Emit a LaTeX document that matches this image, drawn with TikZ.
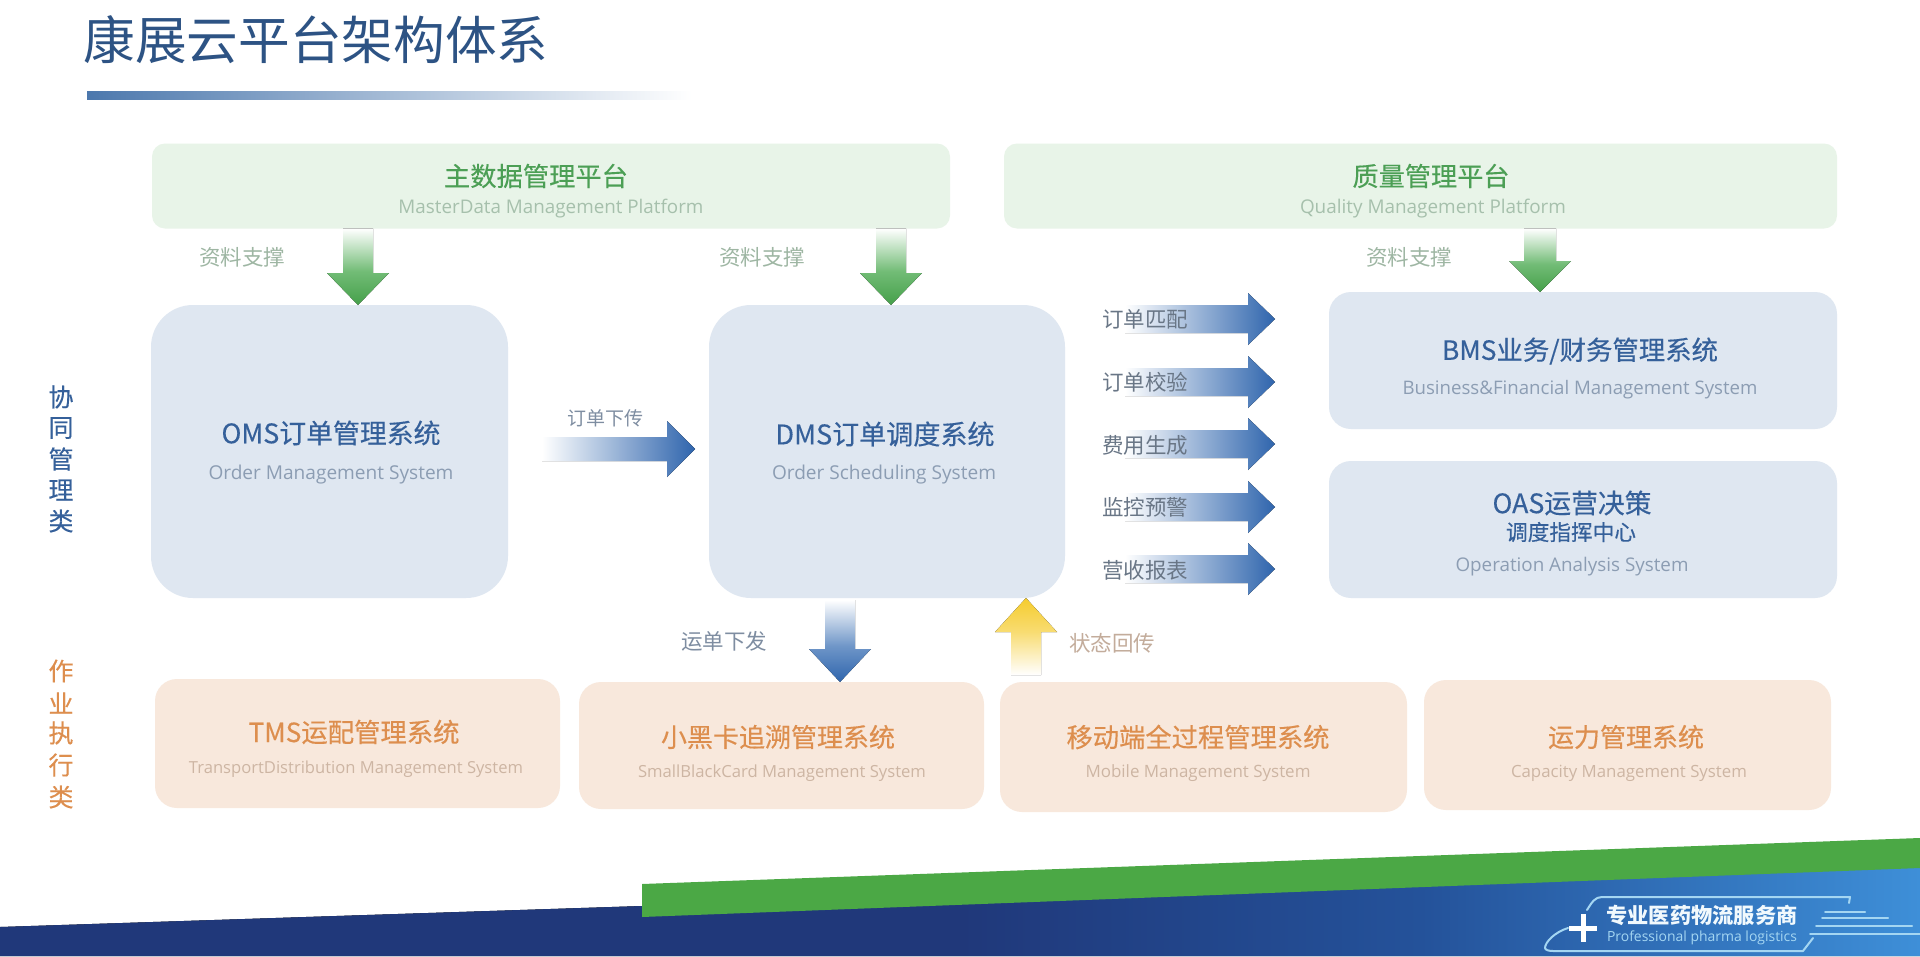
\documentclass[tikz,border=0pt]{standalone}
\usepackage{fontspec}
\setmainfont{Noto Sans CJK SC}
\newfontfamily\cjkmed[FakeBold=0.35]{Noto Sans CJK SC}
\newfontfamily\latinsub{Open Sans}
\usetikzlibrary{calc}
\definecolor{bluebox}{HTML}{DFE7F1}
\definecolor{greenbox}{HTML}{E8F4E8}
\definecolor{orangebox}{HTML}{F8E8DC}
\definecolor{bluetext}{HTML}{35609A}
\definecolor{greentext}{HTML}{4C9F55}
\definecolor{orangetext}{HTML}{DD8E4E}
\definecolor{bluesub}{HTML}{8C9DB3}
\definecolor{greensub}{HTML}{A6C0AC}
\definecolor{orangesub}{HTML}{CDB5A3}
\definecolor{gdark}{HTML}{45A04A}
\definecolor{gmid}{HTML}{72BC76}
\definecolor{bdark}{HTML}{2F65AD}
\definecolor{bmid}{HTML}{6F96C8}
\definecolor{ydark}{HTML}{F5CC2E}
\definecolor{ymid}{HTML}{F8DC72}
\definecolor{navy}{HTML}{20387A}
\definecolor{bandmid}{HTML}{24529A}
\definecolor{bandright}{HTML}{3E8FD8}
\definecolor{bandgreen}{HTML}{4BA845}
\definecolor{logoline}{HTML}{A4D6F2}
\definecolor{rulestart}{HTML}{4C78AD}
\definecolor{titlecol}{HTML}{2D5384}
\pgfdeclareverticalshading{greendown}{100bp}{color(0bp)=(gdark);color(25bp)=(gdark);color(47bp)=(gmid);color(75bp)=(white);color(100bp)=(white)}
\pgfdeclareverticalshading{bluedown}{100bp}{color(0bp)=(bdark);color(25bp)=(bdark);color(47bp)=(bmid);color(75bp)=(white);color(100bp)=(white)}
\pgfdeclareverticalshading{yellowup}{100bp}{color(0bp)=(white);color(25bp)=(white);color(53bp)=(ymid);color(75bp)=(ydark);color(100bp)=(ydark)}
\pgfdeclarehorizontalshading{bandshade}{100bp}{color(0bp)=(navy);color(25bp)=(navy);color(50bp)=(navy);color(62bp)=(bandmid);color(75bp)=(bandright);color(100bp)=(bandright)}
\tikzset{
  x=1pt,y=-1pt,
  box/.style={rectangle,inner sep=0pt,outer sep=0pt,draw=none},
  bluemain/.style={box,fill=bluebox,rounded corners=22pt},
  bluebig/.style={box,fill=bluebox,rounded corners=42pt},
  greenplat/.style={box,fill=greenbox,rounded corners=13pt},
  orangesys/.style={box,fill=orangebox,rounded corners=22pt},
  tx/.style={inner sep=0pt,outer sep=0pt,anchor=center},
  toblue/.style={tx,text=bluetext,font=\cjkmed},
  togreen/.style={tx,text=greentext,font=\cjkmed},
  toorange/.style={tx,text=orangetext,font=\cjkmed},
  subblue/.style={tx,text=bluesub,font=\latinsub},
  subgreen/.style={tx,text=greensub,font=\latinsub},
  suborange/.style={tx,text=orangesub,font=\latinsub},
  edgegreen/.style={tx,text=greensub!95!black,font=\fontsize{21.5}{21.5}\selectfont},
  edgeblue/.style={tx,text=bluesub!90!black,font=\fontsize{21.5}{21.5}\selectfont},
  edgeorange/.style={tx,text=orangesub!95!black,font=\fontsize{21.5}{21.5}\selectfont},
  sidelabel/.style={tx,font=\cjkmed\fontsize{25}{25}\selectfont},
  barrow/.style={left color=white,right color=bdark},
  garrow/.style={shading=greendown},
  dbarrow/.style={shading=bluedown},
  yarrow/.style={shading=yellowup},
  logostroke/.style={draw=logoline,line width=2pt,line cap=round,line join=round},
}
\newcommand{\fitw}[2]{\resizebox{#1pt}{!}{#2}}
% start, tip, shaft half width, head half width, head length, style
\newcommand{\blockarrow}[6]{%
  \coordinate (tmpbase) at ($(#2)!#5pt!(#1)$);
  \fill[#6] ($(#1)!#3pt!90:(#2)$) -- ($(tmpbase)!#3pt!90:(#2)$) -- ($(tmpbase)!#4pt!90:(#2)$) -- (#2)
    -- ($(tmpbase)!#4pt!-90:(#2)$) -- ($(tmpbase)!#3pt!-90:(#2)$) -- ($(#1)!#3pt!-90:(#2)$) -- cycle;
}
\begin{document}
\begin{tikzpicture}
\useasboundingbox (0,0) rectangle (1920,956);
\fill[white] (0,0) rectangle (1920,956);

% title
\node[tx,text=titlecol,anchor=center] (title) at (316,40) {\fitw{465}{\fontsize{52}{52}\selectfont 康展云平台架构体系}};
\fill[left color=rulestart,right color=white] (87,91) rectangle (692,99);

% bottom band
\fill[shading=bandshade] (0,927) -- (642,906) -- (1920,858) -- (1920,956) -- (0,956) -- cycle;
\fill[bandgreen] (642,884) -- (1920,838) -- (1920,868) -- (642,917) -- cycle;

% boxes
\node[greenplat,minimum width=798pt,minimum height=85pt] (mdm) at (551,186) {};
\node[greenplat,minimum width=833pt,minimum height=85pt] (qmp) at (1420.5,186) {};
\node[bluebig,minimum width=357pt,minimum height=293pt] (oms) at (329.5,451.5) {};
\node[bluebig,minimum width=356pt,minimum height=293pt] (dms) at (887,451.5) {};
\node[bluemain,minimum width=508pt,minimum height=137pt] (bms) at (1583,360.5) {};
\node[bluemain,minimum width=508pt,minimum height=137pt] (oas) at (1583,529.5) {};
\node[orangesys,minimum width=405pt,minimum height=129pt] (tms) at (357.5,743.5) {};
\node[orangesys,minimum width=405pt,minimum height=127pt] (sbc) at (781.5,745.5) {};
\node[orangesys,minimum width=407pt,minimum height=130pt] (mob) at (1203.5,747) {};
\node[orangesys,minimum width=407pt,minimum height=130pt] (cap) at (1627.5,745) {};

% coordinates locating the block arrows
\coordinate (xa) at (358,0);
\coordinate (xb) at (891,0);
\coordinate (xc) at (1540,0);
\coordinate (xd) at (840,0);
\coordinate (xe) at (1026,0);
\coordinate (yo) at (0,449);
\coordinate (y1) at (0,319);
\coordinate (y2) at (0,382);
\coordinate (y3) at (0,444);
\coordinate (y4) at (0,507);
\coordinate (y5) at (0,569);

% green arrows
\coordinate (a1s) at (xa |- mdm.south); \coordinate (a1e) at (xa |- oms.north);
\blockarrow{a1s}{a1e}{15}{31}{32}{garrow}
\coordinate (a2s) at (xb |- mdm.south); \coordinate (a2e) at (xb |- dms.north);
\blockarrow{a2s}{a2e}{15}{31}{32}{garrow}
\coordinate (a3s) at (xc |- qmp.south); \coordinate (a3e) at (xc |- bms.north);
\blockarrow{a3s}{a3e}{16}{31}{31}{garrow}

% blue horizontal arrows
\coordinate (a4s) at ($(oms.east |- yo)+(34,0)$); \coordinate (a4e) at ($(dms.west |- yo)+(-14,0)$);
\blockarrow{a4s}{a4e}{12}{28}{28}{barrow}
\foreach \n in {1,...,5}{
  \coordinate (r\n s) at ($(dms.east |- y\n)+(60,0)$);
  \coordinate (r\n e) at ($(bms.west |- y\n)+(-54,0)$);
  \blockarrow{r\n s}{r\n e}{14}{26}{27}{barrow}
}
% vertical arrows to/from the lower row
\coordinate (a5s) at ($(xd |- dms.south)+(0,2)$); \coordinate (a5e) at (xd |- sbc.north);
\blockarrow{a5s}{a5e}{15}{31}{33}{dbarrow}
\coordinate (a6s) at ($(xe |- mob.north)+(0,-7)$); \coordinate (a6e) at (xe |- dms.south);
\blockarrow{a6s}{a6e}{15}{31}{34}{yarrow}

% box text
\node[togreen] (mdmt) at (536,176) {\fitw{184}{\fontsize{26}{26}\selectfont 主数据管理平台}};
\node[subgreen] (mdms) at (551,209) {\fitw{305}{\fontsize{20}{20}\selectfont MasterData Management Platform}};
\node[togreen] (qmpt) at (1431,176) {\fitw{157}{\fontsize{26}{26}\selectfont 质量管理平台}};
\node[subgreen] (qmps) at (1433,209) {\fitw{266}{\fontsize{20}{20}\selectfont Quality Management Platform}};
\node[toblue] (omst) at (331,433) {\fitw{219}{\fontsize{26}{26}\selectfont OMS订单管理系统}};
\node[subblue] (omss) at (331,474.5) {\fitw{245}{\fontsize{20}{20}\selectfont Order Management System}};
\node[toblue] (dmst) at (885,434) {\fitw{219}{\fontsize{26}{26}\selectfont DMS订单调度系统}};
\node[subblue] (dmss) at (884,475) {\fitw{224}{\fontsize{20}{20}\selectfont Order Scheduling System}};
\node[toblue] (bmst) at (1580,351) {\fitw{276}{\fontsize{26}{26}\selectfont BMS业务/财务管理系统}};
\node[subblue] (bmss) at (1580,390) {\fitw{355}{\fontsize{20}{20}\selectfont Business\&Financial Management System}};
\node[toblue] (oast) at (1572,503) {\fitw{159}{\fontsize{26}{26}\selectfont OAS运营决策}};
\node[toblue] (oast2) at (1571,532) {\fitw{130}{\fontsize{22}{22}\selectfont 调度指挥中心}};
\node[subblue] (oass) at (1572,566.5) {\fitw{233}{\fontsize{20}{20}\selectfont Operation Analysis System}};
\node[toorange] (tmst) at (354,732) {\fitw{211}{\fontsize{26}{26}\selectfont TMS运配管理系统}};
\node[suborange] (tmss) at (356,769.5) {\fitw{334}{\fontsize{18}{18}\selectfont TransportDistribution Management System}};
\node[toorange] (sbct) at (778,737) {\fitw{234}{\fontsize{26}{26}\selectfont 小黑卡追溯管理系统}};
\node[suborange] (sbcs) at (782,773.5) {\fitw{288}{\fontsize{18}{18}\selectfont SmallBlackCard Management System}};
\node[toorange] (mobt) at (1198,737) {\fitw{263}{\fontsize{26}{26}\selectfont 移动端全过程管理系统}};
\node[suborange] (mobs) at (1198,773.5) {\fitw{225}{\fontsize{18}{18}\selectfont Mobile Management System}};
\node[toorange] (capt) at (1626,737) {\fitw{156}{\fontsize{26}{26}\selectfont 运力管理系统}};
\node[suborange] (caps) at (1629,773) {\fitw{236}{\fontsize{18}{18}\selectfont Capacity Management System}};

% connector labels
\node[edgegreen] (l1) at (242,257) {资料支撑};
\node[edgegreen] (l2) at (762,257) {资料支撑};
\node[edgegreen] (l3) at (1409,257) {资料支撑};
\node[edgeblue,font=\fontsize{19}{19}\selectfont] (l4) at (605,418) {订单下传};
\node[edgeblue,text=bluesub!75!black] (r1) at (1145,319) {订单匹配};
\node[edgeblue,text=bluesub!75!black] (r2) at (1145,382) {订单校验};
\node[edgeblue,text=bluesub!75!black] (r3) at (1145,445) {费用生成};
\node[edgeblue,text=bluesub!75!black] (r4) at (1145,507) {监控预警};
\node[edgeblue,text=bluesub!75!black] (r5) at (1145,570) {营收报表};
\node[edgeblue] (l5) at (724,641) {运单下发};
\node[edgeorange] (l6) at (1112,643) {状态回传};

% side labels
\foreach \c/\y/\k in {协/397/a,同/428/b,管/459/c,理/490/d,类/521/e}
  \node[sidelabel,text=bluetext] (s\k) at (61,\y) {\c};
\foreach \c/\y/\k in {作/671/f,业/703/g,执/733/h,行/765/i,类/797/j}
  \node[sidelabel,text=orangetext] (s\k) at (61,\y) {\c};

% logo
\draw[logostroke] (1587,910) .. controls (1592,902) and (1595,897) .. (1602,897) -- (1850,897) -- (1849,903);
\draw[logostroke] (1568,928) .. controls (1555,932) and (1545,942) .. (1545,948) .. controls (1545,950) and (1549,951) .. (1553,951) -- (1803,951) -- (1813,938);
\draw[white,line width=5pt] (1569,928) -- (1597,928);
\draw[white,line width=5pt] (1583,914) -- (1583,942);
\draw[logostroke] (1825,912) -- (1865,912);
\draw[logostroke] (1822,918) -- (1888,918);
\draw[logostroke] (1816,926) -- (1912,926);
\draw[logostroke] (1810,934) -- (1920,934);
\node[tx,text=white!85!logoline] (logot) at (1702,915) {\fitw{191}{\fontsize{21}{21}\selectfont\bfseries 专业医药物流服务商}};
\node[tx,text=logoline] (logos) at (1702,938) {\fitw{190}{\fontsize{14}{14}\selectfont\latinsub Professional pharma logistics}};
\end{tikzpicture}
\end{document}
